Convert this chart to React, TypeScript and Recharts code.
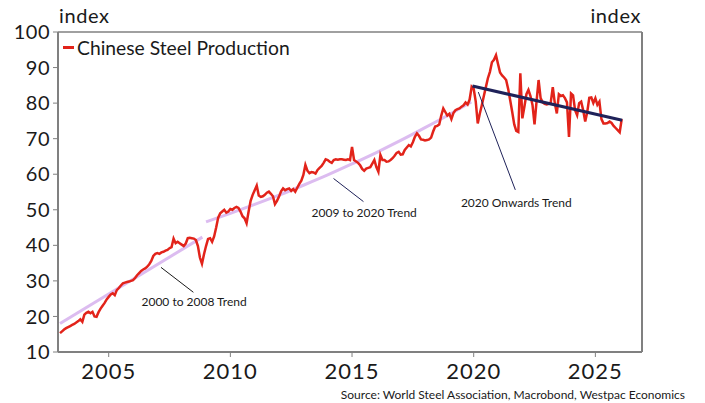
import React from 'react';
import { LineChart, Line, XAxis, YAxis, ReferenceLine, ReferenceDot } from 'recharts';

// Chinese steel production index, monthly from Jan 2003
const startYear = 2003;
const monthlyByYear: number[][] = [
  [15.3, 15.8, 16.3, 16.7, 17.0, 17.3, 17.6, 17.9, 18.3, 18.7, 19.2, 18.5],
  [20.5, 21.0, 21.3, 20.9, 21.3, 20.0, 19.9, 21.2, 22.2, 23.0, 23.8, 24.8],
  [25.5, 26.2, 26.5, 26.0, 27.4, 28.0, 28.7, 29.3, 29.5, 29.7, 29.8, 30.0],
  [30.2, 30.8, 31.6, 32.2, 32.8, 33.2, 33.5, 34.0, 34.7, 35.6, 37.0, 37.6],
  [37.8, 37.6, 38.0, 38.2, 38.5, 38.7, 39.2, 39.5, 41.9, 40.6, 41.0, 40.6],
  [40.2, 39.8, 40.5, 42.0, 42.1, 42.0, 41.9, 41.5, 39.8, 36.5, 34.8, 37.5],
  [39.8, 41.8, 42.0, 41.0, 42.5, 45.0, 47.8, 49.0, 49.5, 50.0, 49.2, 49.5],
  [50.2, 50.0, 50.5, 50.8, 50.5, 49.5, 48.2, 47.6, 46.2, 49.5, 52.5, 54.2],
  [55.5, 56.8, 54.0, 53.6, 53.8, 54.2, 54.8, 55.1, 54.5, 53.8, 51.6, 52.5],
  [53.7, 55.2, 56.0, 55.5, 55.8, 56.0, 55.3, 55.8, 55.1, 56.2, 57.3, 58.2],
  [59.8, 62.6, 61.0, 60.3, 60.6, 60.5, 60.2, 61.2, 61.8, 62.3, 63.2, 64.2],
  [64.0, 63.5, 63.2, 64.0, 64.2, 64.1, 64.2, 64.2, 64.1, 64.0, 64.2, 64.0],
  [67.7, 64.0, 63.6, 63.2, 62.5, 61.5, 61.0, 61.6, 61.8, 62.0, 63.0, 64.0],
  [62.0, 60.7, 65.4, 64.0, 64.0, 63.5, 63.6, 64.0, 64.5, 65.2, 66.0, 66.3],
  [65.5, 65.6, 66.8, 67.5, 68.2, 67.8, 69.0, 70.5, 71.5, 70.8, 69.8, 69.7],
  [69.5, 69.6, 69.8, 70.3, 72.0, 73.4, 73.6, 74.0, 76.5, 78.5, 77.5, 76.5],
  [77.0, 75.5, 77.2, 78.0, 78.3, 78.5, 79.0, 79.4, 80.2, 79.6, 81.0, 84.6],
  [84.0, 80.5, 74.3, 77.0, 79.4, 82.0, 84.5, 87.0, 88.8, 91.5, 92.2, 93.5],
  [91.0, 88.6, 87.8, 87.2, 86.5, 84.0, 80.8, 77.5, 74.0, 72.2, 71.9, 88.4],
  [75.7, 79.0, 82.5, 83.7, 82.0, 79.5, 74.0, 80.5, 86.5, 81.4, 80.2, 79.8],
  [79.6, 79.8, 80.2, 84.5, 80.0, 77.1, 82.5, 82.0, 82.2, 81.4, 80.2, 70.5],
  [82.7, 82.2, 78.0, 76.6, 80.0, 80.4, 78.0, 74.8, 77.5, 81.5, 81.6, 80.0],
  [81.4, 79.5, 80.4, 75.5, 74.3, 74.3, 74.4, 74.8, 74.4, 73.6, 73.0, 72.4],
  [71.8, 75.5],
];

// fitted trend lines (date as decimal year, index value)
const trend0008Dates = [2003.0, 2008.85];
const trend0008Values = [18.0, 42.3];

const trend0920Dates = [2009.0, 2010, 2011, 2012, 2013, 2014, 2015, 2016, 2017, 2018, 2019, 2019.9];
const trend0920Values = [46.6, 49.0, 51.5, 54.1, 56.9, 59.8, 62.9, 66.1, 69.5, 73.1, 76.8, 80.3];

const trend20OnDates = [2019.95, 2026.1];
const trend20OnValues = [84.8, 75.2];

const xTicks = [2005, 2010, 2015, 2020, 2025];
const yTicks = [10, 20, 30, 40, 50, 60, 70, 80, 90, 100];

const steelData = monthlyByYear.flatMap((row, i) =>
  row.map((v, m) => ({ t: startYear + i + m / 12, v }))
);
const toPoints = (dates: number[], values: number[]) =>
  dates.map((t, i) => ({ t, v: values[i] }));

const RED = '#e2231a';
const LILAC = '#dcbcf0';
const NAVY = '#1f2259';
const AXIS = '#808080';
const INK = '#1a1a1a';
const FONT = 'Lato, sans-serif';

const noteStyle = { fontSize: 12, fill: INK, fontFamily: FONT };
const yTickStyle = { fontSize: 20, fill: INK, fontFamily: FONT, letterSpacing: 0.5 };

export default function App() {
  return (
    <div style={{ position: 'absolute', left: 0, top: 0, width: 705, height: 403, background: '#fff', fontFamily: FONT }}>
      <LineChart width={705} height={403} margin={{ top: 32, right: 0, bottom: 0, left: 0 }}>
        <XAxis
          type="number"
          dataKey="t"
          domain={[2002 + 11 / 12, 2026 + 11 / 12]}
          ticks={xTicks}
          height={51}
          tickSize={5}
          tickMargin={6}
          stroke={AXIS}
          axisLine={{ stroke: AXIS, strokeWidth: 2 }}
          tick={{ fontSize: 22, fill: INK, fontFamily: FONT, letterSpacing: 1 }}
        />
        <YAxis
          yAxisId="left"
          domain={[10, 100]}
          ticks={yTicks}
          width={58}
          tickSize={5}
          tickMargin={3}
          stroke={AXIS}
          axisLine={{ stroke: AXIS, strokeWidth: 2 }}
          tick={yTickStyle}
        />
        <YAxis
          yAxisId="right"
          orientation="right"
          domain={[10, 100]}
          ticks={yTicks}
          width={63}
          tickSize={5}
          tickMargin={5}
          stroke={AXIS}
          axisLine={{ stroke: AXIS, strokeWidth: 2 }}
          tick={yTickStyle}
        />
        <ReferenceLine yAxisId="left" y={100} stroke={AXIS} strokeWidth={1.5} />

        <Line yAxisId="left" data={toPoints(trend0008Dates, trend0008Values)} dataKey="v" stroke={LILAC} strokeWidth={3} dot={false} isAnimationActive={false} />
        <Line yAxisId="left" data={toPoints(trend0920Dates, trend0920Values)} dataKey="v" type="monotone" stroke={LILAC} strokeWidth={3} dot={false} isAnimationActive={false} />
        <Line yAxisId="left" data={steelData} dataKey="v" stroke={RED} strokeWidth={2.5} dot={false} isAnimationActive={false} />
        <Line yAxisId="left" data={toPoints(trend20OnDates, trend20OnValues)} dataKey="v" stroke={NAVY} strokeWidth={3} dot={false} isAnimationActive={false} />

        {/* leader lines for the trend notes */}
        <ReferenceLine yAxisId="left" segment={[{ x: 2007.15, y: 33.8 }, { x: 2008.48, y: 26.8 }]} stroke={INK} strokeWidth={1} />
        <ReferenceLine yAxisId="left" segment={[{ x: 2014.24, y: 58.8 }, { x: 2015.47, y: 52.3 }]} stroke={NAVY} strokeWidth={1} />
        <ReferenceLine yAxisId="left" segment={[{ x: 2020.19, y: 83.1 }, { x: 2021.71, y: 55.6 }]} stroke={NAVY} strokeWidth={1} />

        <ReferenceDot yAxisId="left" x={2008.51} y={24.06} r={0} fill="none" stroke="none"
          label={{ value: '2000 to 2008 Trend', position: 'center', ...noteStyle }} />
        <ReferenceDot yAxisId="left" x={2015.5} y={49.1} r={0} fill="none" stroke="none"
          label={{ value: '2009 to 2020 Trend', position: 'center', ...noteStyle }} />
        <ReferenceDot yAxisId="left" x={2021.75} y={51.9} r={0} fill="none" stroke="none"
          label={{ value: '2020 Onwards Trend', position: 'center', ...noteStyle }} />
      </LineChart>

      <div style={{ position: 'absolute', left: 59, top: 3, fontSize: 20, letterSpacing: 0.6, color: INK }}>index</div>
      <div style={{ position: 'absolute', right: 64, top: 3, fontSize: 20, letterSpacing: 0.6, color: INK }}>index</div>

      <div style={{ position: 'absolute', left: 63, top: 36, display: 'flex', alignItems: 'center', fontSize: 19.3, color: INK }}>
        <span style={{ display: 'inline-block', width: 11, height: 3, background: RED, marginRight: 3 }} />
        Chinese Steel Production
      </div>

      <div style={{ position: 'absolute', right: 20, top: 387, fontSize: 12, color: INK }}>
        Source: World Steel Association, Macrobond, Westpac Economics
      </div>
    </div>
  );
}
